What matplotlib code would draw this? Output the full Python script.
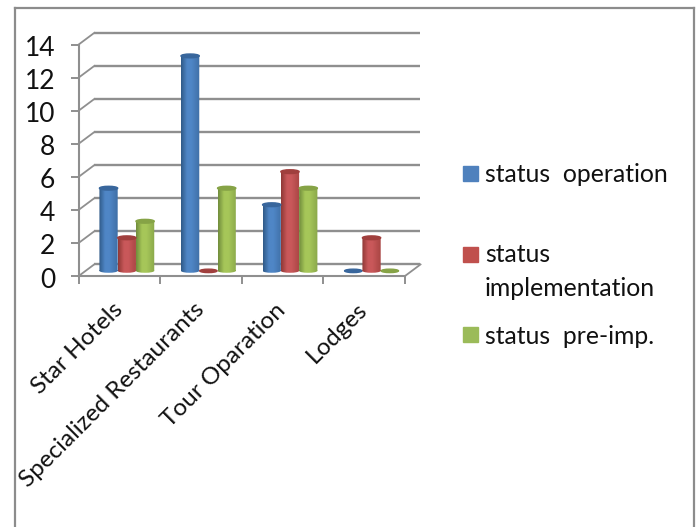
#!/usr/bin/env python3
"""Project status counts by tourism category, drawn as a pseudo-3D cylinder chart."""

import numpy as np
import matplotlib
matplotlib.use("Agg")
import matplotlib.pyplot as plt
from matplotlib.colors import LinearSegmentedColormap
from matplotlib.lines import Line2D
from matplotlib.patches import Ellipse, Rectangle
from matplotlib.path import Path
from matplotlib.transforms import Affine2D

categories = ["Star Hotels", "Specialized Restaurants", "Tour Oparation", "Lodges"]
status_operation = [5, 13, 4, 0]
status_implementation = [2, 0, 6, 2]
status_pre_imp = [3, 5, 5, 0]
y_ticks = [0, 2, 4, 6, 8, 10, 12, 14]

W, H = 699, 527
GRAY = "#8f8f8f"
FONT = "Lato"
DEPTH_X = 0.19   # wall offset in category units
DEPTH_Y = 0.70   # wall offset in value units
BAR_W = 0.224
BAR_RY = 0.115
BAR_X_SHIFT = 0.09
BAR_LIFT = 0.31

STYLES = [
    ("#2f5a88", "#4f86c6", "#3f6fa6", "#38669c"),
    ("#8f3836", "#c9585a", "#a84543", "#a03f3d"),
    ("#718d3c", "#a6c659", "#8aa84a", "#86a346"),
]


def fx(px):
    return px / W


def fy(px):
    return 1 - px / H


def draw_cylinder(ax, x, value, style):
    edge, light, mid, top = style
    base = BAR_LIFT
    if value == 0:
        ax.add_patch(Ellipse((x, base), BAR_W * 0.95, BAR_RY * 1.8, color=top,
                             zorder=4, clip_on=False))
        return
    left, right = x - BAR_W / 2, x + BAR_W / 2
    cmap = LinearSegmentedColormap.from_list(
        "cyl", [(0, edge), (0.32, light), (0.55, light), (1, mid)])
    grad = np.linspace(0, 1, 64)[None, :]
    im = ax.imshow(grad, cmap=cmap, aspect="auto", zorder=4,
                   extent=(left, right, base - BAR_RY, base + value))
    body = Path.unit_rectangle().transformed(
        Affine2D().scale(BAR_W, value).translate(left, base))
    foot = Path.unit_circle().transformed(
        Affine2D().scale(BAR_W / 2, BAR_RY).translate(x, base))
    im.set_clip_path(Path.make_compound_path(body, foot), ax.transData)
    ax.add_patch(Ellipse((x, base + value), BAR_W, BAR_RY * 2, color=top, zorder=5,
                         clip_on=False))


def draw_walls(ax):
    n = len(categories)
    for v in y_ticks:
        ax.plot([DEPTH_X, n + DEPTH_X], [v + DEPTH_Y] * 2, color=GRAY, lw=1.7, zorder=1,
                clip_on=False, solid_capstyle="butt")
        ax.plot([0, DEPTH_X], [v, v + DEPTH_Y], color=GRAY, lw=1.3, zorder=1, clip_on=False)
    ax.plot([n, n + DEPTH_X], [0, DEPTH_Y], color=GRAY, lw=1.3, zorder=1, clip_on=False)


def draw_legend(fig):
    swatches = [("#4f81bd", 166), ("#c0504d", 247), ("#9bbb59", 327)]
    for color, top in swatches:
        fig.add_artist(Rectangle((fx(463), fy(top + 15)), 15 / W, 15 / H, color=color,
                                 transform=fig.transFigure))
    labels = [("status  operation", 175), ("status", 254), ("implementation", 288),
              ("status  pre-imp.", 337)]
    for text, y in labels:
        fig.text(fx(485), fy(y), text, fontsize=17.8, family=FONT, color="#111111",
                 va="center", ha="left")


def draw_frame(fig):
    frame = [((15, 15), (8, H)), ((15, 694), (8, 8)), ((694, 694), (8, H))]
    for xs, ys in frame:
        fig.add_artist(Line2D([fx(xs[0]), fx(xs[1])], [fy(ys[0]), fy(ys[1])], color="#8c8c8c",
                              lw=1.6, transform=fig.transFigure))


def main():
    fig = plt.figure(figsize=(W / 100, H / 100), dpi=100)
    ax = fig.add_axes([fx(78.7), fy(276), (405 - 78.7) / W, (276 - 44.5) / H])
    ax.patch.set_visible(False)

    draw_walls(ax)
    series = [status_operation, status_implementation, status_pre_imp]
    for j, values in enumerate(series):
        for i, value in enumerate(values):
            draw_cylinder(ax, i + 0.5 + (j - 1) * BAR_W + BAR_X_SHIFT, value, STYLES[j])

    ax.set_xlim(0, len(categories))
    ax.set_ylim(0, 14)
    for side in ("top", "right"):
        ax.spines[side].set_visible(False)
    for side in ("left", "bottom"):
        ax.spines[side].set_color(GRAY)
        ax.spines[side].set_linewidth(1.5)
    ax.set_yticks(y_ticks)
    ax.set_yticklabels([str(v) for v in y_ticks], fontsize=19, family=FONT, color="#111111")
    ax.tick_params(axis="y", length=6, width=1.4, color=GRAY, pad=11)
    for label in ax.get_yticklabels():
        label.set_transform(label.get_transform() + Affine2D().translate(0, -1.5))
    ax.set_xticks(range(len(categories) + 1))
    ax.set_xticklabels([])
    ax.tick_params(axis="x", which="major", length=6, width=1.4, color=GRAY)
    ax.set_xticks(np.arange(len(categories)) + 0.5, minor=True)
    ax.set_xticklabels(categories, minor=True, rotation=45, ha="right", va="center",
                       rotation_mode="anchor", fontsize=17.5, family=FONT, color="#111111")
    ax.tick_params(axis="x", which="minor", length=0, pad=22)
    for label in ax.get_xticklabels(minor=True):
        label.set_transform(label.get_transform() + Affine2D().translate(0, 0))

    draw_legend(fig)
    draw_frame(fig)
    fig.savefig("out.png", dpi=100)
    plt.close(fig)


if __name__ == "__main__":
    main()
